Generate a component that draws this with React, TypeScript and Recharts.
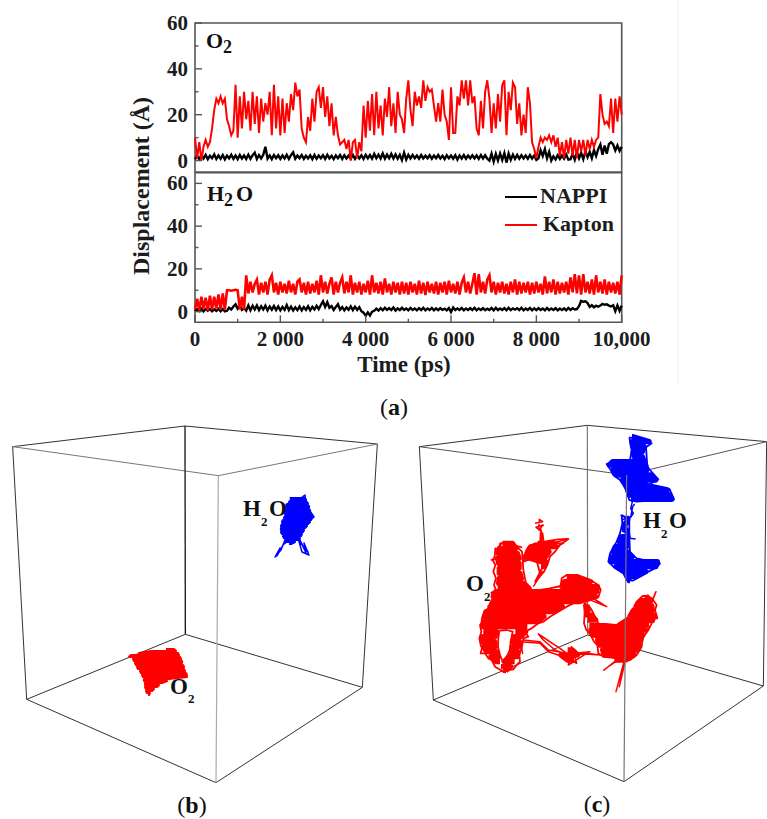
import { LineChart, Line, XAxis, YAxis, ReferenceArea, Legend } from "recharts";

const SERIF = "'Liberation Serif', 'Times New Roman', serif";
const INK = "#1c1c1c";
const FRAME = "#555";
const STEP_PS = 50;

const X_TICKS = [0, 1000, 2000, 3000, 4000, 5000, 6000, 7000, 8000, 9000, 10000];
const X_LABELS: Record<number, string> = { 0: "0", 2000: "2 000", 4000: "4 000", 6000: "6 000", 8000: "8 000", 10000: "10,000" };
const Y_TICKS = [0, 10, 20, 30, 40, 50, 60];
const SERIES_NAMES = ["NAPPI", "Kapton"];

// displacement every 50 ps, O2 panel
const o2Nappi = [
  0.5, 2, 0.6, 2.3, 0.9, 2.5, 0.6, 2.1, 1, 2.7, 0.7, 2.2, 0.8, 2.4, 0.5, 2.1, 0.9, 2.5, 0.7, 2.2,
  0.6, 2.4, 0.9, 2.2, 0.7, 2.6, 0.8, 2.3, 3.4, 0.7, 2.4, 0.9, 2.5, 6, 0.8, 2.2, 0.6, 2.4, 1, 2.3,
  0.7, 2.2, 0.9, 2.5, 0.7, 2.3, 3.6, 0.8, 2.2, 1, 2.4, 0.7, 2.1, 0.9, 2.3, 0.6, 2.4, 0.8, 2.2, 1,
  2.3, 0.7, 2.5, 0.9, 2.1, 0.6, 2.2, 1, 2.4, 0.7, 2.3, 0.9, 2.2, 0.8, 2.4, 0.7, 2.2, 0.9, 2.3, 0.7,
  2.5, 1, 2.4, 0.8, 2.9, 1, 2.6, 0.9, 3.1, 0.8, 2.6, 1, 2.9, 0.9, 2.7, 0.8, 2.5, 0.2, 3.4, 0.4,
  2.5, 0.9, 2.4, 1, 2.2, 0.8, 2.4, 0.9, 2.1, 1, 2.3, 0.8, 2.2, 1, 2.4, 0.9, 2.1, 0.6, 2.3, 1,
  2.2, 0.8, 2.3, 0.4, 2.2, 0.9, 2.4, 0.8, 2.2, 1, 2.3, 0.9, 2.2, 0.7, 2.4, 0.9, 2.3, 0.8, 0, 3,
  -0.5, 2.9, 0, 3.1, 0.2, 3.2, -0.9, 3, 0.3, 2.6, 0.7, 2.4, 0.8, 2.3, 0.9, 2.2, 0.8, 2.4, 0.9, 2.2,
  0.3, 1, 4.5, 2, 5, 1, 3.8, 0, 1.8, 0.5, 2.3, 0.7, 2.2, 0.8, 2.6, 0.4, 0.6, 3, 0.3, 3.6,
  1, 3.4, 0.6, 4, 1.5, 3.8, 1, 4.6, 2, 5, 7, 2.5, 6.5, 3, 7.2, 8, 7, 4.4, 6.6, 4.2,
  6,
];
const o2Kapton = [
  10, 1, 8, 0, 6, 9, 6, 8, 14, 22, 27, 25, 28, 25, 27, 18, 15, 11, 13, 33,
  10, 28, 14, 30, 18, 26, 13, 30, 16, 28, 12, 27, 17, 25, 20, 30, 11, 33, 14, 28,
  11, 27, 12, 25, 17, 29, 22, 34, 28, 31, 14, 10, 8, 19, 13, 27, 17, 30, 32, 23,
  32, 19, 28, 15, 25, 11, 19, 11, 7, 8, 9, 5, 9, 0, 8, 9, 1, 8, 4, 24,
  10, 26, 13, 29, 11, 30, 14, 24, 11, 27, 19, 32, 15, 25, 12, 30, 20, 18, 12, 27,
  35, 22, 15, 30, 24, 28, 23, 35, 26, 32, 30, 31, 24, 17, 25, 17, 31, 20, 17, 9,
  32, 12, 12, 28, 24, 35, 27, 35, 24, 35, 25, 28, 14, 11, 26, 14, 30, 35, 27, 12,
  25, 14, 29, 17, 33, 35, 11, 30, 22, 34, 32, 16, 25, 11, 20, 12, 32, 25, 8, 5,
  1, 6, 10, 8, 10, 9, 11, 8, 11, 6, 10, 2, 8, 1, 9, 3, 10, 2, 9, 1,
  9, 4, 9, 2, 9, 5, 9, 6, 9, 10, 29, 20, 16, 17, 15, 27, 12, 27, 17, 28,
  20,
];
// displacement every 50 ps, H2O panel
const h2oNappi = [
  0.2, 1.2, 0.3, 1.4, 0.1, 1.2, 0.4, 1.3, 0.2, 1.1, 0.3, 1.3, 0.2, 1.2, 0.1, 0.4, 1.8, 1, 2.4, 3.4,
  1.4, 2.8, 0.8, 1.6, 0.4, 2.9, 0.6, 2.7, 1, 2.9, 0.7, 2.5, 1, 2.8, 0.6, 2.4, 0.9, 2.6, 0.7, 2.4,
  0.6, 2.2, 0.8, 3.1, 0.7, 2.3, 0.5, 2, 0.7, 2.4, 0.6, 2.1, 0.8, 2.5, 0.6, 2.2, 1, 2.7, 1.2, 3.1,
  4.8, 2.2, 4.4, 1.8, 2.6, 0.8, 2.2, 3.5, 0.9, 2.1, 0.6, 2, 0.9, 2.5, 0.7, 2.3, 0.8, 2.1, 0.2, -0.5,
  -2, -0.4, -1.8, 0, 0.4, 1.4, 0.5, 1.6, 0.6, 1.8, 0.8, 1.6, 0.7, 1.9, 0.5, 1.5, 0.7, 1.8, 0.8, 1.5,
  0.6, 1.7, 0.8, 1.5, 0.6, 1.6, 0.7, 1.8, 0.6, 1.5, 0.8, 1.7, 0.6, 1.5, 0.7, 1.6, 0.8, 1.4, 0.6, 1.7,
  -0.2, 1.9, 0.7, 1.5, 0.8, 1.7, 0.6, 1.5, 0.8, 1.6, 0.7, 1.8, 0.6, 1.5, 0.8, 1.6, 0.7, 1.4, 0.8, 1.7,
  0.6, 1.8, 0.7, 1.5, 0.8, 1.6, 0.6, 1.8, 0.7, 1.5, 0.9, 1.6, 0.7, 1.8, 0.6, 1.5, 0.8, 1.7, 0.6, 1.5,
  0.7, 1.6, 0.8, 1.5, 0.6, 1.7, 0.7, 1.5, 0.8, 1.6, 0.6, 1.4, 0.7, 1.5, 0.6, 1.7, 0.8, 1.6, 1, 1.2,
  2.5, 5, 4.6, 4.8, 4, 2.2, 3, 2, 2.8, 2.3, 2.9, 3.6, 3.2, 3.4, 2.8, 2.4, 3, 0.2, 2.9, 0.4,
  2.8,
];
const h2oKapton = [
  1, 6, 0.5, 7, 1.5, 6.5, 0.5, 7.5, 1, 7, 1.5, 8, 1, 8.5, 1, 10, 10, 9.8, 10, 10.2,
  10, 1, 7, 1, 17, 8.5, 14, 9, 13, 15, 8, 13.5, 9, 14, 8, 15, 17, 9, 13.5, 8,
  14, 9, 13, 8.5, 14.5, 9, 13, 8, 14, 15, 9, 13.5, 8, 14, 8.5, 13, 9, 14.5, 8, 17,
  9, 14, 8.5, 13, 16, 8, 14, 9, 13.5, 16, 8.5, 14, 9, 17, 8, 13.5, 9, 14, 8, 13,
  9, 14.5, 8, 17, 9, 13.5, 8.5, 14, 8, 15.5, 9, 13, 8, 14, 9, 13.5, 8, 14, 8.5, 13.5,
  8, 14, 9, 13, 8, 14.5, 8.5, 13.5, 7.8, 14, 9, 13, 8.5, 14, 8, 13.5, 9, 14, 8, 14.5,
  9, 13, 8.5, 14, 8, 13.5, 16, 9, 14, 8.5, 13, 18, 8, 17.5, 9, 14, 8.5, 15, 17, 9,
  14, 8, 13.5, 9, 14, 8.5, 13, 8, 14, 9, 15, 8, 14, 8.5, 13.5, 9, 14, 8, 13.5, 8.5,
  14, 9, 13, 8, 16.5, 8.5, 14, 9, 15, 8, 14, 8.5, 13.5, 9, 14, 8, 16, 9, 17.5, 8.5,
  17, 8, 17.5, 9, 14, 8.5, 15, 8, 17, 9, 14, 8.5, 15, 8, 14, 9, 13.5, 8.5, 14, 8,
  17,
];

// wireframe corners, in 3x crop units
const cubeB: Record<string, number[]> = {
  A: [38, 80], B: [555, 18], C: [1132, 72], D: [655, 167],
  E: [80, 838], F: [556, 643], G: [1087, 802], H: [648, 1088],
};
const cubeC: Record<string, number[]> = {
  A: [58, 80], B: [562, 16], C: [1100, 65], D: [680, 165],
  E: [100, 840], F: [563, 645], G: [1090, 798], H: [672, 1085],
};
const DARK_EDGES = ["AB", "BC", "AE", "EF", "FG", "GH", "HE", "CG"];
const SOFT_EDGES = ["CD", "DA"];

// cube (b) clouds, rows of [y, x from, x to] in picture pixels
const blobBOxygen = [
  [649, 165, 175], [651, 150, 177], [653, 138, 179], [655, 130, 180], [657, 128, 181], [659, 132, 182],
  [661, 133, 183], [663, 134, 183], [665, 135, 184], [667, 136, 185], [669, 137, 185], [671, 139, 186],
  [673, 140, 187], [675, 141, 188], [677, 142, 188], [679, 143, 170], [681, 143, 168], [683, 144, 163],
  [685, 144, 160], [687, 144, 158], [689, 145, 155], [691, 145, 153], [693, 146, 151], [695, 147, 150],
];
const blobBWater = [
  [498, 290, 306], [500, 290, 307], [502, 288, 308], [504, 286, 309], [506, 285, 310],
  [508, 284, 310], [510, 284, 311], [512, 284, 311], [514, 284, 312], [516, 284, 313], [518, 283, 313],
  [520, 282, 312], [522, 281, 311], [524, 281, 309], [526, 280, 308], [528, 280, 306], [530, 280, 305],
  [532, 280, 304], [534, 281, 303], [536, 282, 302], [538, 283, 301], [540, 284, 300], [542, 285, 296],
  [544, 288, 292],
];
const legsBWater = [
  [[285, 540], [281, 550], [275, 557], [280, 548], [277, 556], [283, 545], [288, 541]],
  [[298, 538], [302, 552], [309, 555], [304, 543], [306, 553], [300, 540], [304, 548], [308, 552], [299, 541]],
  [[290, 497], [293, 504], [298, 500], [305, 495], [306, 505], [314, 517], [306, 522]],
];

// cube (c) oxygen cloud, 3x crop units of the region at (460, 510)
const blobsCOxygen = [
  [[100, 120, 165], [115, 110, 175], [130, 107, 180], [145, 105, 185], [160, 108, 185], [175, 110, 185], [190, 110, 188], [205, 110, 192], [220, 108, 200], [235, 105, 215]],
  [[200, 312, 360], [215, 305, 400], [230, 298, 420], [245, 100, 418], [260, 92, 415], [275, 95, 365], [290, 82, 315], [305, 70, 285], [320, 65, 260], [335, 62, 240], [350, 62, 210]],
  [[365, 62, 118], [380, 60, 113], [395, 60, 112], [410, 63, 113], [425, 72, 117], [440, 85, 122], [455, 100, 128]],
  [[365, 158, 205], [380, 155, 190], [395, 150, 186], [410, 148, 183], [425, 146, 181], [440, 140, 180], [455, 125, 172]],
  [[470, 115, 160], [482, 130, 145]],
  [[285, 372, 386], [300, 372, 392], [315, 373, 400], [330, 375, 415]],
  [[258, 550, 566], [272, 535, 580], [287, 522, 583], [302, 512, 585], [317, 503, 590], [332, 490, 585], [345, 470, 575]],
  [[347, 380, 445], [360, 385, 565], [375, 392, 555], [390, 405, 550], [405, 410, 545], [420, 420, 540], [435, 425, 530], [450, 455, 505]],
  [[100, 225, 290], [110, 205, 295], [125, 195, 275], [140, 188, 265], [155, 235, 265], [170, 235, 258]],
  [[420, 315, 345], [435, 295, 360], [450, 315, 350]],
];
const strandsCOxygen = [
  [[190, 390], [240, 395], [265, 420], [320, 430], [300, 415], [235, 372], [250, 390], [285, 420], [335, 440], [390, 425], [345, 430], [420, 435], [380, 430], [325, 465], [335, 410], [350, 460], [310, 440], [265, 425], [240, 400], [180, 395], [188, 430], [176, 365], [184, 420], [168, 350]],
  [[492, 455], [468, 545], [480, 500], [494, 460], [478, 530], [490, 470]],
  [[430, 482], [470, 450], [445, 470], [490, 440]],
  [[575, 275], [588, 245], [570, 290], [590, 325], [575, 305]],
  [[378, 265], [440, 290], [405, 268], [420, 280], [385, 255]],
  [[92, 150], [110, 148], [120, 100], [185, 112], [135, 97], [150, 112], [120, 115]],
  [[225, 40], [248, 35], [238, 28], [236, 60], [250, 45], [228, 52], [242, 62], [240, 100], [248, 70], [252, 100], [242, 55], [245, 95]],
  [[325, 87], [275, 100], [310, 100], [270, 115]],
  [[220, 230], [245, 190], [225, 215], [248, 170], [236, 205], [252, 185]],
  [[190, 155], [225, 120], [195, 140], [230, 110]],
];
const fringesCOxygen = [
  [[125, 98], [112, 118], [106, 115], [104, 140], [98, 150], [106, 165], [100, 185], [108, 205], [102, 225], [108, 240], [94, 248], [98, 265], [90, 280], [92, 290], [78, 300], [80, 312], [65, 325], [68, 335], [60, 345], [64, 365], [58, 385], [62, 405], [66, 415], [62, 430], [75, 430], [85, 445], [95, 450], [105, 470], [118, 478], [132, 487], [145, 480], [160, 478], [170, 465], [180, 455], [178, 435], [186, 410], [190, 385], [205, 380], [195, 365], [215, 355], [235, 340], [250, 335], [270, 320], [295, 305], [320, 290], [350, 275], [380, 268], [415, 262], [422, 240], [415, 225], [395, 213], [370, 208], [345, 198], [320, 195], [305, 205], [302, 228], [270, 235], [240, 240], [215, 245], [200, 232], [195, 205], [190, 180], [188, 150], [186, 125], [165, 105], [145, 97], [125, 98]],
  [[118, 362], [115, 385], [114, 410], [120, 435], [128, 455], [140, 440], [150, 420], [152, 395], [158, 365], [140, 360], [118, 362]],
  [[372, 285], [374, 310], [372, 340], [378, 358], [392, 375], [402, 395], [412, 405], [415, 430], [430, 440], [470, 445], [490, 455], [510, 450], [530, 435], [545, 410], [548, 385], [565, 360], [575, 340], [580, 325], [592, 325], [585, 300], [590, 285], [575, 265], [560, 258], [548, 258], [530, 275], [520, 295], [505, 320], [490, 335], [465, 348], [440, 348], [415, 340], [405, 320], [395, 300], [385, 285]],
  [[205, 110], [225, 100], [245, 98], [270, 92], [295, 88], [325, 87], [300, 105], [285, 125], [270, 140], [262, 165], [252, 185], [240, 190], [232, 160], [228, 135], [205, 150], [190, 155], [195, 130], [205, 110]],
];

// cube (c) water cloud, 3x crop units of the region at (590, 430)
const blobCWater = [
  [20, 118, 135], [35, 118, 185], [50, 120, 170], [65, 122, 165], [80, 125, 165], [95, 60, 170], [105, 50, 175],
  [120, 62, 178], [135, 70, 190], [150, 90, 205], [165, 100, 170], [180, 105, 240], [195, 110, 248], [208, 115, 253],
];
const blobCWaterLower = [
  [265, 95, 122], [280, 98, 118], [300, 95, 118], [320, 88, 122], [335, 80, 120], [350, 68, 118], [365, 62, 120],
  [380, 58, 135], [395, 55, 210], [410, 70, 205], [425, 95, 175], [440, 105, 145], [452, 110, 128],
];
const strandsCWater = [
  [[128, 212], [122, 235], [130, 250], [122, 262], [128, 230], [134, 222]],
  [[118, 325], [137, 327]],
  [[92, 255], [108, 262], [98, 270]],
  [[252, 208], [225, 200], [240, 178], [205, 190]],
];
const fringesCWater = [
  [[118, 22], [135, 25], [150, 35], [185, 40], [168, 52], [170, 80], [172, 110], [180, 120], [205, 148], [175, 165], [165, 175], [240, 180], [252, 208], [210, 208], [180, 212], [140, 215], [118, 210], [108, 180], [100, 165], [90, 150], [70, 135], [62, 120], [50, 102], [90, 95], [120, 92], [125, 60], [118, 22]],
  [[95, 255], [105, 262], [118, 270], [118, 320], [120, 370], [140, 385], [210, 400], [200, 412], [175, 425], [150, 440], [128, 452], [110, 450], [100, 430], [70, 410], [55, 395], [60, 370], [80, 335], [90, 310], [97, 280], [95, 255]],
];

// captions: text, x, baseline, size
const CHEM = [
  { label: "O", x: 206, y: 48, size: 22 }, { label: "2", x: 223, y: 53, size: 18 },
  { label: "H", x: 207, y: 201, size: 22 }, { label: "2", x: 224, y: 206, size: 18 }, { label: "O", x: 236, y: 201, size: 22 },
  { label: "H", x: 243, y: 516, size: 23 }, { label: "2", x: 261, y: 526, size: 13 }, { label: "O", x: 269, y: 516, size: 23 },
  { label: "O", x: 170, y: 694, size: 23 }, { label: "2", x: 188, y: 703, size: 13 },
  { label: "O", x: 466, y: 591, size: 23 }, { label: "2", x: 484, y: 601, size: 13 },
  { label: "H", x: 643, y: 528, size: 23 }, { label: "2", x: 661, y: 538, size: 13 }, { label: "O", x: 669, y: 528, size: 23 },
];
const PANEL_TAGS = [
  { tag: "a", x: 394, y: 415 },
  { tag: "b", x: 192, y: 813 },
  { tag: "c", x: 597, y: 812 },
];

const withTime = (nappi: number[], kapton: number[]) =>
  nappi.map((v, i) => ({ time: i * STEP_PS, NAPPI: v, Kapton: kapton[i] }));

// row list -> back and forth trace that fills the cloud
const sweep = (rows: number[][], inset = 0) =>
  rows.flatMap(([y, a, b], i) =>
    i % 2 ? [[b - inset, y], [a + inset, y]] : [[a + inset, y], [b - inset, y]]
  );

const edgeTraces = (cube: Record<string, number[]>, edges: string[], stroke: string, strokeWidth: number) =>
  edges.map((e) => ({ points: [cube[e[0]], cube[e[1]]], stroke, strokeWidth }));

const YTick = ({ x, y, payload }: any) => {
  const major = payload.value % 20 === 0;
  return (
    <g>
      <line x1={x + 7} x2={x + 7 + (major ? 7 : 3.5)} y1={y} y2={y} stroke={FRAME} strokeWidth={1.4} />
      {major && (
        <text x={x} y={y + 7} textAnchor="end" fontFamily={SERIF} fontWeight={700} fontSize={21} fill={INK}>
          {payload.value}
        </text>
      )}
    </g>
  );
};

const XTick = ({ x, y, payload }: any) => {
  const label = X_LABELS[payload.value];
  return (
    <g>
      <line x1={x} x2={x} y1={y - 7} y2={y - 7 - (label ? 7 : 3.5)} stroke={FRAME} strokeWidth={1.4} />
      {label && (
        <text x={x} y={y + 17} textAnchor="middle" fontFamily={SERIF} fontWeight={700} fontSize={21} fill={INK}>
          {label}
        </text>
      )}
    </g>
  );
};

const LegendRows = ({ payload }: any) => (
  <div style={{ fontFamily: SERIF, fontWeight: 700, fontSize: 22, color: INK }}>
    {(payload || []).map((item: any, i: number) => (
      <div key={item.value} style={{ display: "flex", alignItems: "center", height: 28 }}>
        <div style={{ width: 32, height: 1.6, background: item.color }} />
        <span style={{ marginLeft: i ? 6 : 3, position: "relative", top: -1 }}>{item.value}</span>
      </div>
    ))}
  </div>
);

const Panel = ({ data, top, height, marginTop, marginBottom, domain, showX, redWidth }: any) => (
  <div style={{ position: "absolute", left: 0, top }}>
    <LineChart
      width={767}
      height={height}
      data={data}
      margin={{ top: marginTop, right: 145.3, bottom: marginBottom, left: 135 }}
    >
      <ReferenceArea x1={0} x2={10000} y1={domain[0]} y2={domain[1]} fill="none" stroke={FRAME} strokeWidth={1.6} />
      <XAxis
        dataKey="time"
        type="number"
        domain={[0, 10000]}
        ticks={X_TICKS}
        interval={0}
        hide={!showX}
        height={45}
        axisLine={false}
        tickLine={false}
        tickSize={0}
        tickMargin={7}
        tick={<XTick />}
      />
      <YAxis
        type="number"
        domain={domain}
        ticks={Y_TICKS}
        interval={0}
        width={60}
        axisLine={false}
        tickLine={false}
        tickSize={0}
        tickMargin={7}
        tick={<YTick />}
      />
      <Line dataKey="NAPPI" name="NAPPI" type="linear" stroke="#000" strokeWidth={2.4} dot={false} activeDot={false} isAnimationActive={false} />
      <Line dataKey="Kapton" name="Kapton" type="linear" stroke="#ff0000" strokeWidth={redWidth} dot={false} activeDot={false} isAnimationActive={false} />
      {showX && (
        <Legend
          layout="horizontal"
          verticalAlign="middle"
          align="center"
          width={125}
          content={<LegendRows />}
          itemSorter={(item: any) => SERIES_NAMES.indexOf(item.value)}
          wrapperStyle={{ left: 505, top: 33, width: 125, height: 56 }}
        />
      )}
    </LineChart>
  </div>
);

const TraceChart = ({ left, top, width, height, domainX, domainY, traces }: any) => (
  <div style={{ position: "absolute", left, top }}>
    <LineChart width={width} height={height} margin={{ top: 0, right: 0, bottom: 0, left: 0 }}>
      <XAxis hide dataKey="x" type="number" domain={domainX} allowDataOverflow />
      <YAxis hide type="number" reversed domain={domainY} allowDataOverflow />
      {traces.map((t: any, i: number) => (
        <Line
          key={i}
          data={t.points.map((p: number[]) => ({ x: p[0], y: p[1] }))}
          dataKey="y"
          type="linear"
          stroke={t.stroke}
          strokeWidth={t.strokeWidth}
          strokeLinejoin="round"
          dot={false}
          activeDot={false}
          legendType="none"
          isAnimationActive={false}
        />
      ))}
    </LineChart>
  </div>
);

const o2Data = withTime(o2Nappi, o2Kapton);
const h2oData = withTime(h2oNappi, h2oKapton);

const RED = "#ff0000";
const BLUE = "#0000ff";

export default function App() {
  return (
    <div style={{ position: "absolute", left: 0, top: 0, width: 767, height: 819, background: "#fff", overflow: "hidden" }}>
      <Panel data={o2Data} top={0} height={180} marginTop={23} marginBottom={8} domain={[-5, 60]} showX={false} redWidth={2} />
      <Panel data={h2oData} top={150} height={230} marginTop={22.7} marginBottom={12.7} domain={[-5, 65]} showX redWidth={2.6} />

      {/* cube b */}
      <TraceChart
        left={0} top={420} width={390} height={399} domainX={[0, 1170]} domainY={[0, 1197]}
        traces={[
          ...edgeTraces(cubeB, DARK_EDGES, "#333", 1),
          ...edgeTraces(cubeB, SOFT_EDGES, "#777", 1),
          ...edgeTraces(cubeB, ["BF"], "#111", 1.3),
          ...edgeTraces(cubeB, ["DH"], "#aaa", 1.2),
        ]}
      />
      <TraceChart
        left={120} top={490} width={210} height={220} domainX={[120, 330]} domainY={[490, 710]}
        traces={[
          { points: sweep(blobBOxygen, 1), stroke: RED, strokeWidth: 2.2 },
          { points: sweep(blobBWater, 1), stroke: BLUE, strokeWidth: 2.2 },
          ...legsBWater.map((points) => ({ points, stroke: BLUE, strokeWidth: 1.5 })),
        ]}
      />

      {/* cube c, clouds sit between the back edges and the front post */}
      <TraceChart
        left={400} top={420} width={367} height={399} domainX={[0, 1101]} domainY={[0, 1197]}
        traces={[
          ...edgeTraces(cubeC, DARK_EDGES, "#333", 1),
          ...edgeTraces(cubeC, SOFT_EDGES, "#555", 1),
          ...edgeTraces(cubeC, ["BF"], "#777", 1.2),
        ]}
      />
      <TraceChart
        left={460} top={510} width={210} height={190} domainX={[0, 630]} domainY={[0, 570]}
        traces={[
          ...blobsCOxygen.map((rows) => ({ points: sweep(rows, 8), stroke: RED, strokeWidth: 5.4 })),
          ...fringesCOxygen.map((points) => ({ points, stroke: RED, strokeWidth: 1.8 })),
          ...strandsCOxygen.map((points) => ({ points, stroke: RED, strokeWidth: 1.5 })),
        ]}
      />
      <TraceChart
        left={590} top={430} width={100} height={160} domainX={[0, 300]} domainY={[0, 480]}
        traces={[
          { points: sweep(blobCWater, 8), stroke: BLUE, strokeWidth: 5.4 },
          { points: sweep(blobCWaterLower, 8), stroke: BLUE, strokeWidth: 5.4 },
          ...fringesCWater.map((points) => ({ points, stroke: BLUE, strokeWidth: 1.8 })),
          ...strandsCWater.map((points) => ({ points, stroke: BLUE, strokeWidth: 1.5 })),
        ]}
      />
      <TraceChart
        left={400} top={420} width={367} height={399} domainX={[0, 1101]} domainY={[0, 1197]}
        traces={edgeTraces(cubeC, ["DH"], "#777", 1.2)}
      />

      <svg width={767} height={819} style={{ position: "absolute", left: 0, top: 0 }}>
        <line x1={678} x2={678} y1={0} y2={385} stroke="#f1f1f1" strokeWidth={1} />
        <text
          transform="translate(149,186) rotate(-90)"
          textAnchor="middle"
          fontFamily={SERIF}
          fontWeight={700}
          fontSize={24}
          fill={INK}
        >
          Displacement (Å)
        </text>
        <text x={404} y={372} textAnchor="middle" fontFamily={SERIF} fontWeight={700} fontSize={23} fill={INK}>
          Time (ps)
        </text>
        {CHEM.map((c, i) => (
          <text key={i} x={c.x} y={c.y} fontFamily={SERIF} fontWeight={700} fontSize={c.size} fill="#111">
            {c.label}
          </text>
        ))}
        {PANEL_TAGS.map((p) => (
          <text key={p.tag} x={p.x} y={p.y} textAnchor="middle" fontFamily={SERIF} fontSize={24} fill="#111">
            (<tspan fontWeight={700}>{p.tag}</tspan>)
          </text>
        ))}
      </svg>
    </div>
  );
}
